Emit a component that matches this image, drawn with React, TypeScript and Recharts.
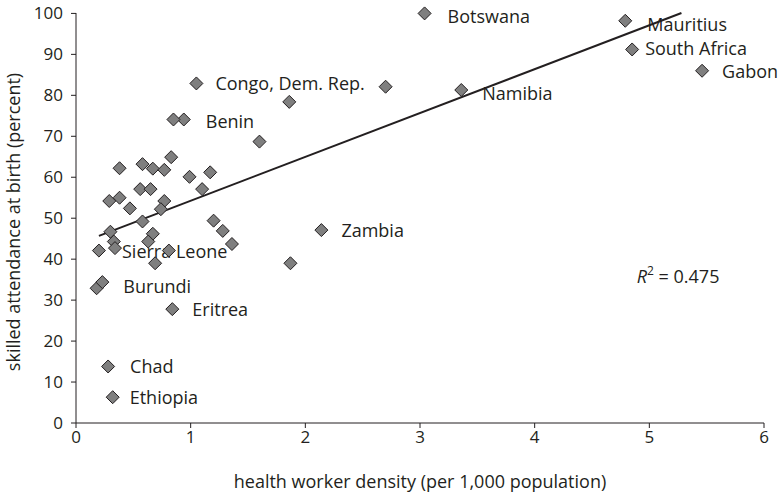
import React from "react";
import { ScatterChart, Scatter, XAxis, YAxis, ReferenceDot } from "recharts";

// health worker density (per 1,000 population)
const density = [
  3.04, 4.79, 4.85, 5.46, 3.36, 2.7, 1.05, 1.86, 1.6, 0.94, 0.85, 0.38, 0.58, 0.67, 0.77,
  0.83, 0.99, 1.17, 1.1, 0.56, 0.65, 0.29, 0.38, 0.47, 0.77, 0.74, 0.58, 0.3, 0.33, 0.34,
  0.2, 0.67, 0.63, 0.81, 0.69, 1.2, 1.28, 1.36, 2.14, 1.87, 0.18, 0.23, 0.84, 0.28, 0.32,
];

// skilled attendance at birth (percent)
const attendance = [
  100, 98.2, 91.2, 86, 81.3, 82.1, 82.9, 78.4, 68.7, 74.1, 74.1, 62.2, 63.2, 62.1, 61.8,
  64.9, 60.1, 61.2, 57.1, 57.1, 57.1, 54.2, 55, 52.4, 54.2, 52.2, 49.2, 46.7, 44.3, 42.7,
  42.1, 46.2, 44.3, 42.1, 39, 49.4, 46.9, 43.7, 47.1, 39, 32.9, 34.4, 27.8, 13.8, 6.3,
];

const countries = [
  "Botswana", "Mauritius", "South Africa", "Gabon", "Namibia", "", "Congo, Dem. Rep.", "", "",
  "Benin", "", "", "", "", "", "", "", "", "", "", "", "", "", "", "", "", "", "", "",
  "Sierra Leone", "", "", "", "", "", "", "", "", "Zambia", "", "", "Burundi", "Eritrea",
  "Chad", "Ethiopia",
];

// fitted line endpoints
const trendX = [0.2, 5.28];
const trendY = [45.7, 100.1];

const xTicks = [0, 1, 2, 3, 4, 5, 6];
const yTicks = [0, 10, 20, 30, 40, 50, 60, 70, 80, 90, 100];

const rSquared = "0.475";

// label placement relative to its marker, in pixels
const labelOffset: Record<string, [number, number]> = {
  Botswana: [23, 3],
  Mauritius: [22, 3],
  "South Africa": [13, -1],
  Gabon: [20, 0],
  Namibia: [21, 3],
  "Congo, Dem. Rep.": [19, 0],
  Benin: [22, 2],
  Zambia: [20, 0],
  "Sierra Leone": [7, 3],
  Burundi: [21, 4],
  Eritrea: [20, 0],
  Chad: [22, 0],
  Ethiopia: [17, 0],
};

const points = density.map((x, i) => ({ x, y: attendance[i], name: countries[i] }));
const labelled = points.filter((p) => p.name !== "");
const trend = trendX.map((x, i) => ({ x, y: trendY[i] }));

const INK = "#231f20";
const FONT = "'Open Sans', sans-serif";

const Diamond = (props: any) => {
  const { cx, cy } = props;
  const r = 6.5;
  return (
    <polygon
      points={`${cx},${cy - r} ${cx + r},${cy} ${cx},${cy + r} ${cx - r},${cy}`}
      fill="#7f7f7f"
      stroke={INK}
      strokeWidth={1}
    />
  );
};

const CountryLabel = (props: any) => {
  const { cx, cy, payload } = props;
  const [dx, dy] = labelOffset[payload.name] || [20, 0];
  return (
    <text x={cx + dx} y={cy + dy} dominantBaseline="central" fontSize={18} fill={INK} fontFamily={FONT}>
      {payload.name}
    </text>
  );
};

const RLabel = (props: any) => {
  const { viewBox } = props;
  return (
    <text x={viewBox.x} y={viewBox.y} dominantBaseline="central" fontSize={18} fill={INK} fontFamily={FONT}>
      <tspan fontStyle="italic">R</tspan>
      <tspan fontSize={12} dy={-6}>2</tspan>
      <tspan dy={6}>{` = ${rSquared}`}</tspan>
    </text>
  );
};

export default function App() {
  return (
    <div style={{ position: "absolute", left: 0, top: 0, background: "#fff" }}>
      <ScatterChart width={782} height={498} margin={{ top: 13, right: 18, bottom: 0, left: 0 }}>
        <XAxis
          type="number"
          dataKey="x"
          domain={[0, 6]}
          ticks={xTicks}
          height={75}
          tickSize={5}
          tickMargin={3}
          stroke={INK}
          tick={{ fontSize: 17, fill: INK, fontFamily: FONT }}
          label={{
            content: (p: any) => (
              <text
                x={p.viewBox.x + p.viewBox.width / 2}
                y={p.viewBox.y + 58}
                textAnchor="middle"
                dominantBaseline="central"
                fontSize={18}
                fill={INK}
                fontFamily={FONT}
              >
                health worker density (per 1,000 population)
              </text>
            ),
          }}
        />
        <YAxis
          type="number"
          dataKey="y"
          domain={[0, 100]}
          ticks={yTicks}
          width={76}
          tickSize={5}
          tickMargin={8}
          stroke={INK}
          tick={{ fontSize: 17, fill: INK, fontFamily: FONT }}
          label={{
            content: () => {
              const cx = 13;
              const cy = 222;
              return (
                <text
                  x={cx}
                  y={cy}
                  transform={`rotate(-90 ${cx} ${cy})`}
                  textAnchor="middle"
                  dominantBaseline="central"
                  fontSize={18}
                  fill={INK}
                  fontFamily={FONT}
                >
                  skilled attendance at birth (percent)
                </text>
              );
            },
          }}
        />
        <Scatter data={labelled} shape={CountryLabel} isAnimationActive={false} />
        <Scatter
          data={trend}
          line={{ stroke: INK, strokeWidth: 2 }}
          shape={() => null}
          isAnimationActive={false}
        />
        <Scatter data={points} shape={Diamond} isAnimationActive={false} />
        <ReferenceDot x={4.89} y={35.9} r={0} fill="none" stroke="none" label={<RLabel />} />
      </ScatterChart>
    </div>
  );
}
